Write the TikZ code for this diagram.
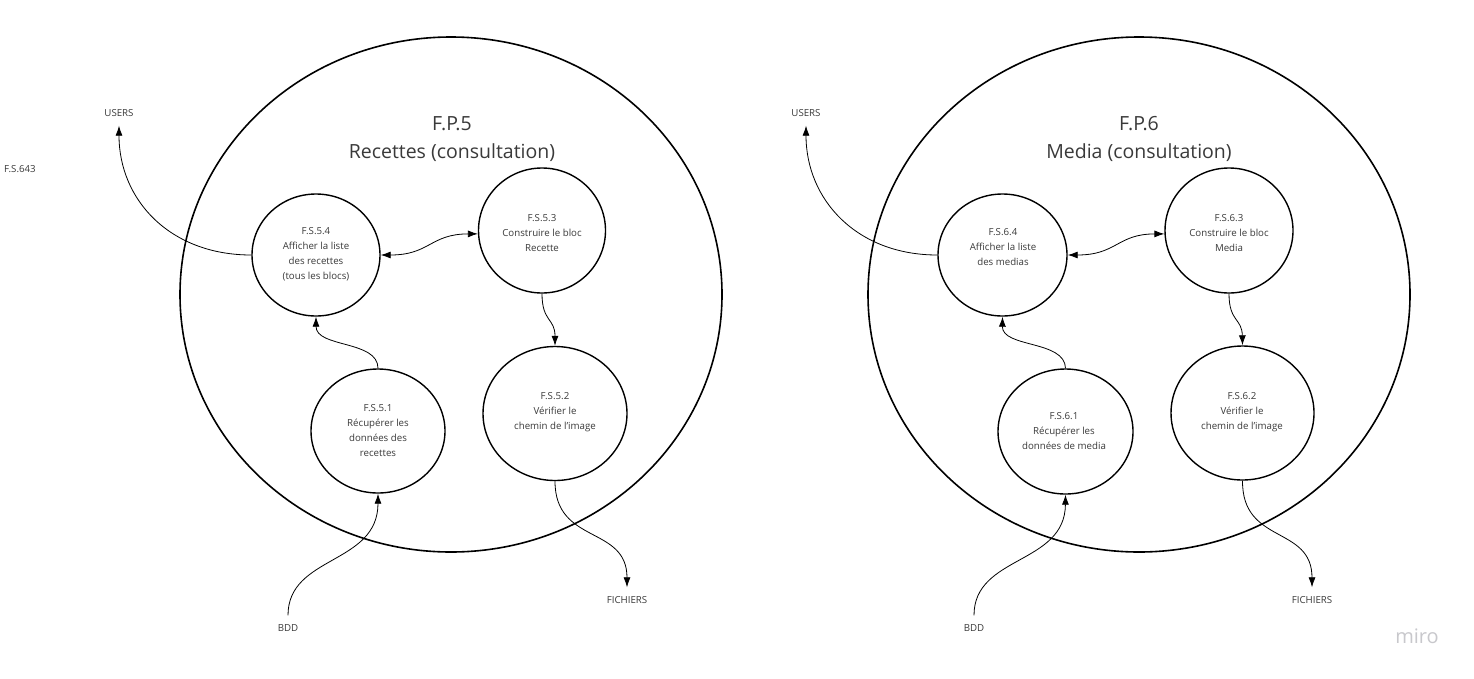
\documentclass[tikz,border=0pt]{standalone}
\usepackage{fontspec}
\setmainfont{Open Sans}
\usetikzlibrary{shapes.geometric,arrows.meta}
\definecolor{txt}{HTML}{3A3A3A}
\definecolor{mirogrey}{HTML}{C8C8CC}
\tikzset{
  bigproc/.style={draw=black,line width=1.6pt,ellipse,inner sep=0pt},
  subproc/.style={draw=black,line width=1.4pt,ellipse,inner sep=0pt},
  subtxt/.style={align=center,text=txt,font=\fontsize{9.7}{15}\selectfont,inner sep=0pt},
  titletxt/.style={align=center,text=txt,font=\fontsize{19.5}{28}\selectfont,inner sep=0pt},
  extlabel/.style={text=txt,font=\fontsize{9.7}{10}\selectfont,inner xsep=1pt,inner ysep=9pt,text height=7pt,text depth=0pt},
  flow/.style={draw=black,line width=0.8pt,-{Latex[length=10pt,width=7pt]}},
  flowboth/.style={draw=black,line width=0.8pt,{Latex[length=10pt,width=7pt]}-{Latex[length=10pt,width=7pt]}}
}
\begin{document}
\begin{tikzpicture}[x=1pt,y=-1pt]
\useasboundingbox[fill=white] (0,0) rectangle (1474,678);

% ---------------- Left: F.P.5 ----------------
\node[bigproc,minimum width=542pt,minimum height=515pt] (fp5) at (451,294.5) {};
\node[titletxt] (fp5t) at (452,139) {F.P.5\\Recettes (consultation)};

\node[subproc,minimum width=128pt,minimum height=122pt] (c54) at (316,255) {};
\node[subtxt] (t54) at (316,254.5) {F.S.5.4\\Afficher la liste\\des recettes\\(tous les blocs)};
\node[subproc,minimum width=127pt,minimum height=125pt] (c53) at (542,230.5) {};
\node[subtxt] (t53) at (542,233.5) {F.S.5.3\\Construire le bloc\\Recette};
\node[subproc,minimum width=134pt,minimum height=124pt] (c51) at (378,431) {};
\node[subtxt] (t51) at (378,431) {F.S.5.1\\Récupérer les\\données des\\recettes};
\node[subproc,minimum width=144pt,minimum height=134pt] (c52) at (555,413.5) {};
\node[subtxt] (t52) at (555,412) {F.S.5.2\\Vérifier le\\chemin de l'image};

\node[extlabel] (users5) at (119,113) {USERS};
\node[extlabel] (fs643) at (20,169) {F.S.643};
\node[extlabel] (bdd5) at (288,628) {BDD};
\node[extlabel] (fich5) at (627,600) {FICHIERS};

\draw[flow] (c54.west) .. controls (170,255) and (119,200) .. (users5.south);
\draw[flowboth] (c54.east) .. controls (430,255) and (430,234) .. (c53.183);
\draw[flow] (c53.south) .. controls (542,322) and (555,318) .. (c52.north);
\draw[flow] (c51.north) .. controls (378,340) and (316,348) .. (c54.south);
\draw[flow] (bdd5.north) .. controls (288,555) and (378,565) .. (c51.south);
\draw[flow] (c52.south) .. controls (555,545) and (627,525) .. (fich5.north);

% ---------------- Right: F.P.6 ----------------
\node[bigproc,minimum width=542pt,minimum height=515pt] (fp6) at (1139,294.5) {};
\node[titletxt] (fp6t) at (1139,139) {F.P.6\\Media (consultation)};

\node[subproc,minimum width=129pt,minimum height=122pt] (c64) at (1002.5,255) {};
\node[subtxt] (t64) at (1003,247) {F.S.6.4\\Afficher la liste\\des medias};
\node[subproc,minimum width=128pt,minimum height=125pt] (c63) at (1229,230.5) {};
\node[subtxt] (t63) at (1229,233.5) {F.S.6.3\\Construire le bloc\\Media};
\node[subproc,minimum width=135pt,minimum height=125pt] (c61) at (1065.5,431.5) {};
\node[subtxt] (t61) at (1064,431) {F.S.6.1\\Récupérer les\\données de media};
\node[subproc,minimum width=143pt,minimum height=134pt] (c62) at (1242.5,413) {};
\node[subtxt] (t62) at (1242,412) {F.S.6.2\\Vérifier le\\chemin de l'image};

\node[extlabel] (users6) at (806,113) {USERS};
\node[extlabel] (bdd6) at (974,628) {BDD};
\node[extlabel] (fich6) at (1312,600) {FICHIERS};

\draw[flow] (c64.west) .. controls (857,255) and (806,200) .. (users6.south);
\draw[flowboth] (c64.east) .. controls (1117,255) and (1117,234) .. (c63.183);
\draw[flow] (c63.south) .. controls (1229,322) and (1242,318) .. (c62.north);
\draw[flow] (c61.north) .. controls (1065,340) and (1002,348) .. (c64.south);
\draw[flow] (bdd6.north) .. controls (974,555) and (1065,565) .. (c61.south);
\draw[flow] (c62.south) .. controls (1242,545) and (1312,525) .. (fich6.north);

% watermark
\node[text=mirogrey,font=\fontsize{20}{20}\selectfont,inner sep=0pt] (miro) at (1417,636) {miro};
\end{tikzpicture}
\end{document}
